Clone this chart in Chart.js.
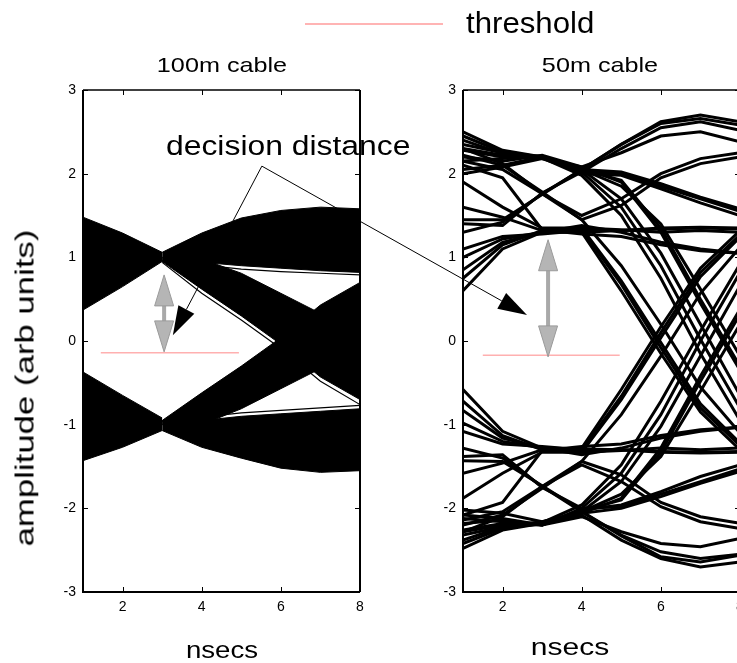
<!DOCTYPE html>
<html><head><meta charset="utf-8">
<script src="https://cdn.jsdelivr.net/npm/chart.js@4.4.1/dist/chart.umd.min.js"></script>
<style>
html,body{margin:0;padding:0;background:#fff;overflow:hidden;width:737px;height:663px;}
#stage{position:relative;width:737px;height:663px;overflow:hidden;font-family:"Liberation Sans",Arial,sans-serif;color:#000;}
canvas{position:absolute;left:0;top:0;}
.t{position:absolute;white-space:nowrap;line-height:1;}
</style></head>
<body><div id="stage">
<canvas id="c50" width="745" height="663" style="z-index:1"></canvas>
<canvas id="c100" width="745" height="663" style="z-index:2"></canvas>
<div id="legLine" style="position:absolute;z-index:3;left:305px;top:23px;width:138px;height:2px;background:#ffb4b4;"></div>
<div class="t" style="z-index:3;left:466px;top:8px;font-size:30px;transform-origin:0 0;transform:scaleX(1.04)">threshold</div>
<div class="t" style="z-index:3;left:222px;top:54px;font-size:21px;transform:translateX(-50%) scaleX(1.2)">100m cable</div>
<div class="t" style="z-index:3;left:600px;top:54px;font-size:21px;transform:translateX(-50%) scaleX(1.2)">50m cable</div>
<div class="t" style="z-index:3;left:166px;top:133px;font-size:27px;transform-origin:0 0;transform:scaleX(1.18)">decision distance</div>
<div class="t" style="z-index:3;left:222px;top:638px;font-size:24px;transform:translateX(-50%) scaleX(1.15)">nsecs</div>
<div class="t" style="z-index:3;left:570px;top:635px;font-size:24px;transform:translateX(-50%) scaleX(1.25)">nsecs</div>
<div class="t" style="z-index:3;left:25px;top:388px;font-size:25px;transform:translate(-50%,-50%) rotate(-90deg) scaleX(1.39)">amplitude (arb units)</div>
</div>
<script>
// ---------- data ----------
const sampleTimes = [1, 2, 3, 4, 5, 6, 7, 8];
const xTickValues = [2, 4, 6, 8];
const yTickValues = [-3, -2, -1, 0, 1, 2, 3];

// 100m cable: envelope edges of the trace bundles
// x = 1..3
const upperLeadTop = [1.48, 1.29, 1.06];
const upperLeadBottom = [0.37, 0.65, 0.95];
const lowerLeadTop = [-0.37, -0.65, -0.92];
const lowerLeadBottom = [-1.43, -1.27, -1.07];
// x = 3..8
const stayHighTop = [1.06, 1.29, 1.47, 1.56, 1.60, 1.58];
const stayHighBottom = [0.95, 0.94, 0.90, 0.87, 0.84, 0.82];
const fallingTop = [1.00, 0.98, 0.81, 0.57, 0.33, 0.07];
const fallingBottom = [0.95, 0.62, 0.30, -0.04, -0.43, -0.70];
const risingTop = [-0.95, -0.62, -0.30, 0.04, 0.43, 0.70];
const risingBottom = [-1.00, -1.00, -0.81, -0.57, -0.33, -0.08];
const stayLowTop = [-0.95, -0.95, -0.90, -0.87, -0.84, -0.81];
const stayLowBottom = [-1.07, -1.27, -1.40, -1.52, -1.57, -1.55];
// single stray traces just outside the bundles (x = 3..8)
const strayHigh = [0.96, 0.91, 0.86, 0.83, 0.81, 0.79];
const strayFalling = [0.94, 0.57, 0.25, -0.09, -0.48, -0.76];
const strayLow = [-0.96, -0.91, -0.86, -0.83, -0.80, -0.77];

// 50m cable: individual traces, values at x = 1..8
const upperTraces50m = [
  [2.50, 2.28, 2.20, 2.05, 2.35, 2.62, 2.70, 2.62],
  [2.35, 2.25, 2.18, 2.02, 2.30, 2.55, 2.62, 2.52],
  [2.20, 2.15, 2.22, 2.08, 2.25, 2.45, 2.50, 2.38],
  [2.05, 2.10, 2.20, 2.00, 1.98, 1.82, 1.65, 1.50],
  [2.45, 2.26, 2.20, 2.05, 2.02, 1.88, 1.72, 1.58],
  [2.30, 2.22, 2.19, 1.98, 1.50, 0.75, -0.15, -0.95],
  [2.15, 2.18, 2.21, 2.02, 1.60, 0.90, 0.02, -0.80],
  [2.40, 2.24, 2.20, 2.05, 1.70, 1.05, 0.20, -0.65],
  [2.00, 2.08, 2.18, 2.08, 1.90, 1.30, 0.45, -0.35],
  [2.28, 2.20, 2.21, 2.05, 1.85, 1.40, 0.62, -0.18],
  [2.30, 2.12, 1.76, 1.45, 1.62, 1.95, 2.12, 2.20],
  [2.15, 2.05, 1.76, 1.50, 1.70, 2.00, 2.18, 2.25],
  [2.22, 2.10, 1.78, 1.45, 0.90, 0.20, -0.55, -1.10],
  [1.30, 1.42, 1.76, 2.05, 2.35, 2.60, 2.66, 2.58],
  [1.45, 1.45, 1.75, 2.05, 1.92, 1.35, 0.50, -0.30],
  [1.40, 1.38, 1.77, 2.02, 2.00, 1.85, 1.70, 1.55],
  [0.60, 1.10, 1.30, 1.30, 1.32, 1.35, 1.36, 1.35],
  [0.75, 1.15, 1.32, 1.35, 1.33, 1.30, 1.32, 1.30],
  [1.00, 1.22, 1.30, 1.38, 1.30, 1.18, 1.10, 1.05],
  [1.60, 1.48, 1.32, 1.30, 0.60, -0.15, -0.85, -1.30],
  [1.90, 1.60, 1.35, 1.35, 0.72, -0.02, -0.75, -1.22],
  [1.10, 1.25, 1.28, 1.32, 1.32, 1.34, 1.35, 1.34],
  [0.85, 1.18, 1.30, 1.33, 0.68, -0.08, -0.80, -1.25],
  [2.10, 1.95, 1.33, 1.28, 1.25, 1.15, 1.08, 1.05]
];
const lowerTraces50m = [
  [-2.48, -2.26, -2.18, -2.08, -2.38, -2.60, -2.70, -2.64],
  [-2.32, -2.22, -2.16, -2.04, -2.32, -2.52, -2.60, -2.55],
  [-2.18, -2.14, -2.20, -2.10, -2.28, -2.42, -2.46, -2.36],
  [-2.08, -2.12, -2.20, -2.02, -1.96, -1.80, -1.62, -1.48],
  [-2.42, -2.24, -2.18, -2.06, -2.00, -1.86, -1.70, -1.56],
  [-2.28, -2.20, -2.17, -1.96, -1.48, -0.72, 0.12, 0.92],
  [-2.12, -2.16, -2.20, -2.00, -1.58, -0.88, 0.00, 0.82],
  [-2.38, -2.22, -2.19, -2.04, -1.68, -1.02, -0.18, 0.66],
  [-2.02, -2.06, -2.16, -2.06, -1.88, -1.28, -0.42, 0.38],
  [-2.26, -2.18, -2.20, -2.04, -1.83, -1.38, -0.60, 0.20],
  [-2.28, -2.10, -1.74, -1.44, -1.60, -1.93, -2.10, -2.18],
  [-2.14, -2.04, -1.74, -1.48, -1.68, -1.98, -2.16, -2.24],
  [-2.20, -2.08, -1.76, -1.44, -0.88, -0.18, 0.57, 1.12],
  [-1.28, -1.40, -1.74, -2.04, -2.33, -2.58, -2.64, -2.56],
  [-1.43, -1.44, -1.73, -2.03, -1.90, -1.33, -0.48, 0.32],
  [-1.38, -1.36, -1.75, -2.00, -1.98, -1.83, -1.68, -1.53],
  [-0.58, -1.08, -1.28, -1.29, -1.30, -1.33, -1.34, -1.33],
  [-0.72, -1.13, -1.30, -1.33, -1.31, -1.28, -1.30, -1.28],
  [-0.98, -1.20, -1.28, -1.36, -1.28, -1.16, -1.08, -1.03],
  [-1.58, -1.46, -1.30, -1.28, -0.58, 0.17, 0.87, 1.32],
  [-1.88, -1.58, -1.33, -1.33, -0.70, 0.04, 0.77, 1.24],
  [-1.08, -1.23, -1.26, -1.30, -1.30, -1.32, -1.33, -1.32],
  [-0.83, -1.16, -1.28, -1.31, -0.66, 0.10, 0.82, 1.27],
  [-2.08, -1.93, -1.31, -1.26, -1.23, -1.13, -1.06, -1.03]
];

// threshold lines: [xStart, xEnd, level]
const threshold100m = [1.45, 4.94, -0.14];
const threshold50m = [1.50, 4.96, -0.17];
// decision-distance arrows: [x, top, bottom]
const gapArrow100m = [3.05, 0.79, -0.13];
const gapArrow50m = [3.15, 1.21, -0.19];
// callout (in 100m-panel data units): apex, left tip, right tip
const calloutApex = [5.52, 2.09];
const calloutTipLeft = [3.27, 0.07];
const calloutTipRight = [12.22, 0.31];

// ---------- helpers ----------
const FONT = '"Liberation Sans", Arial, sans-serif';
const pts = (xs, ys) => xs.map((x, i) => ({x, y: ys[i]}));
const leadX = sampleTimes.slice(0, 3);
const tailX = sampleTimes.slice(2);
function band(xs, top, bottom) {
  return [
    {data: pts(xs, top), borderColor: '#000', borderWidth: 1, pointRadius: 0, fill: false},
    {data: pts(xs, bottom), borderColor: '#000', borderWidth: 1, pointRadius: 0, fill: '-1', backgroundColor: '#000'}
  ];
}
function stray(xs, ys) {
  return {data: pts(xs, ys), borderColor: '#000', borderWidth: 1.2, pointRadius: 0, fill: false};
}
function thresholdSet(t) {
  return {data: [{x: t[0], y: t[2]}, {x: t[1], y: t[2]}], borderColor: '#ffb0b0', borderWidth: 1.5, pointRadius: 0, fill: false};
}

function axes() {
  return {
    x: {
      type: 'linear', min: 1, max: 8,
      grid: {display: false, drawTicks: false}, border: {display: false},
      ticks: {color: '#000', font: {family: FONT, size: 14}, padding: 7, maxRotation: 0},
      afterBuildTicks: s => { s.ticks = xTickValues.map(v => ({value: v})); },
      afterFit: s => { s.height = 30; s.paddingLeft = 0; s.paddingRight = 0; }
    },
    y: {
      type: 'linear', min: -3, max: 3,
      grid: {display: false, drawTicks: false}, border: {display: false},
      ticks: {color: '#000', font: {family: FONT, size: 14}, padding: 7},
      afterBuildTicks: s => { s.ticks = yTickValues.map(v => ({value: v})); },
      afterFit: s => { s.width = 30; s.paddingTop = 0; s.paddingBottom = 0; }
    }
  };
}

const framePlugin = {
  id: 'frame',
  afterDatasetsDraw(chart) {
    const {ctx, chartArea: a, scales: {x, y}} = chart;
    ctx.save();
    ctx.strokeStyle = '#000';
    ctx.lineWidth = 1;
    const L = 5;
    ctx.beginPath();
    x.ticks.forEach(t => {
      const p = Math.round(x.getPixelForValue(t.value)) + 0.5;
      ctx.moveTo(p, a.bottom); ctx.lineTo(p, a.bottom - L);
      ctx.moveTo(p, a.top); ctx.lineTo(p, a.top + L);
    });
    y.ticks.forEach(t => {
      const p = Math.round(y.getPixelForValue(t.value)) + 0.5;
      ctx.moveTo(a.left, p); ctx.lineTo(a.left + L, p);
      ctx.moveTo(a.right, p); ctx.lineTo(a.right - L, p);
    });
    ctx.stroke();
    ctx.lineWidth = 2;
    ctx.beginPath();
    ctx.moveTo(a.left, a.top); ctx.lineTo(a.left, a.bottom); ctx.lineTo(a.right, a.bottom);
    ctx.moveTo(a.right, a.bottom); ctx.lineTo(a.right, a.top);
    ctx.stroke();
    ctx.lineWidth = 1.5;
    ctx.beginPath();
    ctx.moveTo(a.left, a.top); ctx.lineTo(a.right, a.top);
    ctx.stroke();
    ctx.restore();
  }
};

function drawGapArrow(chart, spec) {
  const {ctx, scales: {x, y}} = chart;
  const px = x.getPixelForValue(spec[0]);
  const top = y.getPixelForValue(spec[1]);
  const bot = y.getPixelForValue(spec[2]);
  const hl = 31, hw = 9.5;
  ctx.save();
  ctx.fillStyle = '#a9a9a9';
  ctx.fillRect(px - 2, top + hl - 2, 4, bot - top - 2 * hl + 4);
  ctx.fillStyle = '#b5b5b5';
  ctx.strokeStyle = '#9a9a9a';
  ctx.lineWidth = 1;
  ctx.beginPath();
  ctx.moveTo(px, top); ctx.lineTo(px + hw, top + hl); ctx.lineTo(px - hw, top + hl); ctx.closePath();
  ctx.fill(); ctx.stroke();
  ctx.beginPath();
  ctx.moveTo(px, bot); ctx.lineTo(px + hw, bot - hl); ctx.lineTo(px - hw, bot - hl); ctx.closePath();
  ctx.fill(); ctx.stroke();
  ctx.restore();
}

function drawBlackArrow(ctx, x1, y1, x2, y2) {
  const ang = Math.atan2(y2 - y1, x2 - x1);
  const hl = 29, hw = 9;
  const bx = x2 - hl * Math.cos(ang), by = y2 - hl * Math.sin(ang);
  ctx.beginPath();
  ctx.moveTo(x1, y1); ctx.lineTo(bx, by);
  ctx.stroke();
  ctx.beginPath();
  ctx.moveTo(x2, y2);
  ctx.lineTo(bx + hw * Math.sin(ang), by - hw * Math.cos(ang));
  ctx.lineTo(bx - hw * Math.sin(ang), by + hw * Math.cos(ang));
  ctx.closePath();
  ctx.fill();
}

const gap100Plugin = {
  id: 'gap100',
  afterDraw(chart) {
    drawGapArrow(chart, gapArrow100m);
    const {ctx, scales: {x, y}} = chart;
    const ax = x.getPixelForValue(calloutApex[0]), ay = y.getPixelForValue(calloutApex[1]);
    ctx.save();
    ctx.strokeStyle = '#000'; ctx.fillStyle = '#000'; ctx.lineWidth = 1;
    drawBlackArrow(ctx, ax, ay, x.getPixelForValue(calloutTipLeft[0]), y.getPixelForValue(calloutTipLeft[1]));
    drawBlackArrow(ctx, ax, ay, x.getPixelForValue(calloutTipRight[0]), y.getPixelForValue(calloutTipRight[1]));
    ctx.restore();
  }
};
const gap50Plugin = {
  id: 'gap50',
  afterDraw(chart) { drawGapArrow(chart, gapArrow50m); }
};

const common = {
  responsive: false, animation: false, devicePixelRatio: 1,
  plugins: {legend: {display: false}, tooltip: {enabled: false}, title: {display: false}},
  elements: {line: {tension: 0}}
};

// ---------- 100m chart ----------
new Chart(document.getElementById('c100'), {
  type: 'line',
  data: {
    datasets: [
      ...band(leadX, upperLeadTop, upperLeadBottom),
      ...band(leadX, lowerLeadTop, lowerLeadBottom),
      ...band(tailX, stayHighTop, stayHighBottom),
      ...band(tailX, fallingTop, fallingBottom),
      ...band(tailX, risingTop, risingBottom),
      ...band(tailX, stayLowTop, stayLowBottom),
      stray(tailX, strayHigh),
      stray(tailX, strayFalling),
      stray(tailX, strayLow),
      thresholdSet(threshold100m)
    ]
  },
  options: Object.assign({}, common, {
    layout: {padding: {left: 53, right: 385, top: 90, bottom: 41}},
    scales: axes()
  }),
  plugins: [framePlugin, gap100Plugin]
});

// ---------- 50m chart ----------
const traceSets = upperTraces50m.concat(lowerTraces50m).map(tr => ({
  data: pts(sampleTimes, tr), borderColor: '#000', borderWidth: 3, pointRadius: 0, fill: false
}));
new Chart(document.getElementById('c50'), {
  type: 'line',
  data: {datasets: [...traceSets, thresholdSet(threshold50m)]},
  options: Object.assign({}, common, {
    layout: {padding: {left: 433, right: 5, top: 90, bottom: 41}},
    scales: axes()
  }),
  plugins: [framePlugin, gap50Plugin]
});
</script>
</body></html>
